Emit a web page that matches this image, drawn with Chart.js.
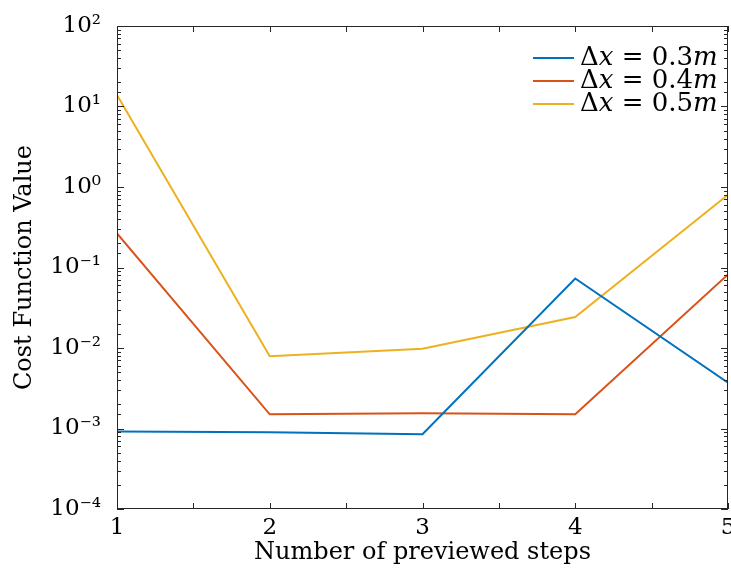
<!DOCTYPE html>
<html>
<head>
<meta charset="utf-8">
<script src="https://cdn.jsdelivr.net/npm/chart.js@4.4.0/dist/chart.umd.min.js"></script>
<style>
  html, body { margin: 0; padding: 0; background: #fff; }
  #wrap { width: 731px; height: 570px; }
</style>
</head>
<body>
<div id="wrap"><canvas id="costChart"></canvas></div>
<script>
// valores
const steps = [1, 2, 3, 4, 5];
const cost03 = [0.00092, 0.0009, 0.00085, 0.073, 0.0037];
const cost04 = [0.265, 0.0015, 0.00155, 0.0015, 0.082];
const cost05 = [13.9, 0.0079, 0.0098, 0.0243, 0.8];
const seriesLabels = ['0.3', '0.4', '0.5'];
const seriesColors = ['#0072BD', '#D95319', '#EDB120'];

const sup = {'-': '\u207B', '0': '\u2070', '1': '\u00B9', '2': '\u00B2', '3': '\u00B3', '4': '\u2074'};
function powLabel(v) {
  const e = Math.round(Math.log10(v));
  return '10' + String(e).split('').map(c => sup[c]).join('');
}
function isPow10(v) {
  const e = Math.log10(v);
  return Math.abs(e - Math.round(e)) < 1e-9;
}

const FONT = 'DejaVu Serif';
const axisColor = '#262626';

// caja y ticks hacia adentro, estilo MATLAB
const boxPlugin = {
  id: 'boxPlugin',
  afterDraw(chart) {
    const {ctx, chartArea: a, scales: {x, y}} = chart;
    ctx.save();
    ctx.strokeStyle = axisColor;
    ctx.lineWidth = 1;
    ctx.strokeRect(a.left + 0.5, a.top + 0.5, a.right - a.left - 1, a.bottom - a.top - 1);
    ctx.beginPath();
    x.ticks.forEach(t => {
      const px = Math.round(x.getPixelForValue(t.value)) + 0.5;
      ctx.moveTo(px, a.bottom); ctx.lineTo(px, a.bottom - 6);
      ctx.moveTo(px, a.top); ctx.lineTo(px, a.top + 6);
    });
    y.ticks.forEach(t => {
      const py = Math.round(y.getPixelForValue(t.value)) + 0.5;
      const len = isPow10(t.value) ? 7 : 4;
      ctx.moveTo(a.left, py); ctx.lineTo(a.left + len, py);
      ctx.moveTo(a.right, py); ctx.lineTo(a.right - len, py);
    });
    ctx.stroke();

    // leyenda
    const x0 = 533, x1 = 574, tx = 580;
    chart.data.datasets.forEach((ds, i) => {
      const ly = 58 + i * 23;
      ctx.strokeStyle = ds.borderColor;
      ctx.lineWidth = 2;
      ctx.beginPath(); ctx.moveTo(x0, ly); ctx.lineTo(x1, ly); ctx.stroke();
      ctx.fillStyle = '#000';
      ctx.textBaseline = 'middle';
      let cx = tx;
      const parts = [['\u0394', ''], ['x', 'italic '], [' = ' + seriesLabels[i], ''], ['m', 'italic ']];
      parts.forEach(p => {
        ctx.font = p[1] + '26px ' + FONT;
        ctx.fillText(p[0], cx, ly);
        cx += ctx.measureText(p[0]).width;
      });
    });
    ctx.restore();
  }
};

const ctx = document.getElementById('costChart').getContext('2d');
const costChart = new Chart(ctx, {
  type: 'line',
  data: {
    datasets: [
      { label: 'dx 0.3', data: steps.map((s, i) => ({x: s, y: cost03[i]})), borderColor: seriesColors[0] },
      { label: 'dx 0.4', data: steps.map((s, i) => ({x: s, y: cost04[i]})), borderColor: seriesColors[1] },
      { label: 'dx 0.5', data: steps.map((s, i) => ({x: s, y: cost05[i]})), borderColor: seriesColors[2] }
    ].map(d => Object.assign(d, { borderWidth: 2, pointRadius: 0, tension: 0, fill: false }))
  },
  options: {
    responsive: true,
    maintainAspectRatio: false,
    animation: false,
    layout: { padding: { top: 26, right: 3, left: 0, bottom: 0 } },
    plugins: { legend: { display: false }, tooltip: { enabled: false } },
    scales: {
      x: {
        type: 'linear',
        min: 1, max: 5,
        grid: { display: false },
        border: { display: false },
        ticks: {
          stepSize: 0.5, autoSkip: false, maxRotation: 0, padding: 0,
          color: '#000', font: { family: FONT, size: 23, lineHeight: 1 },
          callback: v => Number.isInteger(v) ? String(v) : ''
        },
        title: {
          display: true, text: 'Number of previewed steps', color: '#000',
          font: { family: FONT, size: 24 }, padding: { top: 0, bottom: 3 }
        },
        afterFit(s) { s.height = 61; s.paddingLeft = 0; s.paddingRight = 0; }
      },
      y: {
        type: 'logarithmic',
        min: 1e-4, max: 1e2,
        grid: { display: false },
        border: { display: false },
        ticks: {
          autoSkip: false, padding: 8,
          color: '#000', font: { family: FONT, size: 23 },
          callback: v => isPow10(v) ? powLabel(v) : ''
        },
        title: {
          display: true, text: 'Cost Function Value', color: '#000',
          font: { family: FONT, size: 24 }, padding: { top: 10, bottom: 0 }
        },
        afterFit(s) { s.width = 117; s.paddingTop = 0; s.paddingBottom = 0; }
      }
    }
  },
  plugins: [boxPlugin]
});
</script>
</body>
</html>
